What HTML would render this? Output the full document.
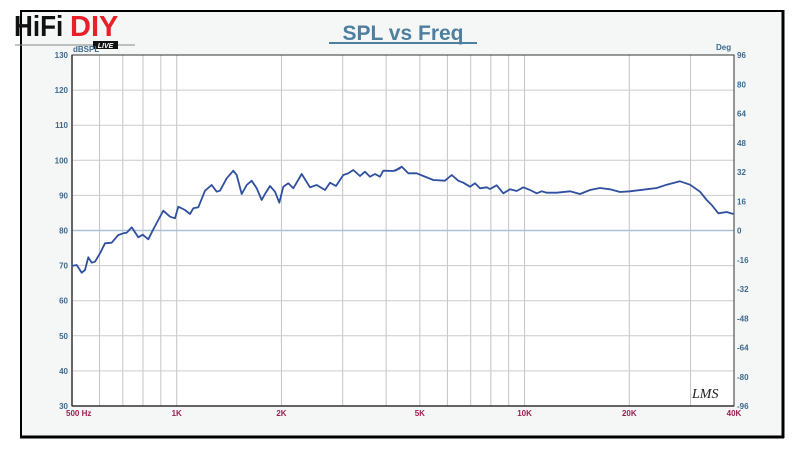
<!DOCTYPE html>
<html><head><meta charset="utf-8"><style>
body{margin:0;width:800px;height:454px;background:#fff;overflow:hidden;font-family:"Liberation Sans",sans-serif}
</style></head><body>
<svg id="s" width="800" height="454" xmlns="http://www.w3.org/2000/svg" font-family="Liberation Sans, sans-serif">
<rect x="21" y="11" width="762" height="426" fill="#f5f6f6" stroke="#000" stroke-width="2"/>
<line x1="783" y1="10" x2="783" y2="438" stroke="#000" stroke-width="3"/>
<line x1="20" y1="437" x2="784" y2="437" stroke="#000" stroke-width="3"/>
<rect x="72" y="55" width="662" height="351" fill="#fff"/>
<g id="grid"></g>
<line x1="72" y1="230.5" x2="734" y2="230.5" stroke="#a9c0d8" stroke-width="1.5"/>
<rect x="72" y="55" width="662" height="351" fill="none" stroke="#333" stroke-width="1"/>
<line x1="72" y1="55" x2="72" y2="406" stroke="#333" stroke-width="1.5"/>
<line x1="72" y1="406" x2="734" y2="406" stroke="#333" stroke-width="1.5"/>
<g id="lab" font-size="8" font-weight="bold"></g>
<text x="403" y="40" text-anchor="middle" font-size="21" font-weight="bold" fill="#4f7f9f">SPL vs Freq</text>
<line x1="329" y1="43" x2="477" y2="43" stroke="#4f7f9f" stroke-width="2"/>
<text x="14" y="36" font-size="29" font-weight="bold" fill="#111" transform="translate(14,0) scale(0.9,1) translate(-14,0)">HiFi</text>
<text x="70" y="36" font-size="29" font-weight="bold" fill="#e8202a">DIY</text>
<line x1="15" y1="45" x2="135" y2="45" stroke="#888" stroke-width="1"/>
<rect x="93" y="41" width="25" height="8" fill="#111"/>
<text x="105.5" y="48" font-size="7" fill="#fff" text-anchor="middle" font-style="italic" font-weight="bold">LIVE</text>
<text x="73" y="52" font-size="8" fill="#3d6a8f" font-weight="bold">dBSPL</text>
<text x="716" y="50" font-size="8" fill="#3d6a8f" font-weight="bold">Deg</text>
<text x="692" y="398" font-size="14" font-style="italic" fill="#222" font-family="Liberation Serif, serif">LMS</text>
<polyline id="c" fill="none" stroke="#2f4f9f" stroke-width="1.8" stroke-linejoin="round"/>
</svg>
<script>
var NS="http://www.w3.org/2000/svg",g=document.getElementById('grid'),lab=document.getElementById('lab');
function X(f){return 72+662*Math.log10(f/500)/Math.log10(80);}
function el(p,t,a,txt){var e=document.createElementNS(NS,t);for(var k in a)e.setAttribute(k,a[k]);if(txt)e.textContent=txt;p.appendChild(e);}
var fs=[600,700,800,900,1000,2000,3000,4000,5000,6000,7000,8000,9000,10000,20000,30000];
fs.forEach(function(f){var x=X(f);el(g,'line',{x1:x,y1:55,x2:x,y2:406,stroke:'#c4c4c4','stroke-width':1});});
for(var d=40;d<=120;d+=10){var y=55+(130-d)*3.51;el(g,'line',{x1:72,y1:y,x2:734,y2:y,stroke:'#cccccc','stroke-width':1});}
for(var d=30;d<=130;d+=10){var y=55+(130-d)*3.51;el(lab,'text',{x:68,y:y+3,'text-anchor':'end',fill:'#3d6a8f'},String(d));}
for(var i=0;i<=12;i++){var v=96-16*i,y=55+i*29.25;el(lab,'text',{x:737,y:y+3,fill:'#3d6a8f'},String(v));}
[[500,'500  Hz'],[1000,'1K'],[2000,'2K'],[5000,'5K'],[10000,'10K'],[20000,'20K'],[40000,'40K']].forEach(function(a){var x=X(a[0]);el(lab,'text',{x:a[0]==500?66:x,y:416,'text-anchor':a[0]==500?'start':'middle',fill:'#9a2050'},a[1]);});
var z4=[[35,348],[50,345],[65,368],[75,360],[85,322],[95,338],[105,335],[120,310],[135,280],[155,278],[175,255],[190,250],[200,248],[215,232],[235,262],[248,254],[265,268],[280,238],[295,210],[310,182],[330,200],[345,205],[355,170],[375,180],[390,192],[400,175],[415,172],[435,122],[455,105],[470,125],[480,122],[500,85],[520,62],[530,75],[545,132],[560,105],[575,92],[590,115],[605,150],[615,132],[630,108],[645,125],[658,158],[670,110],[685,100],[700,115],[725,72],[750,112],[770,105],[795,120],[810,98],[828,108],[850,75],[865,70],[880,60],[900,78],[915,65],[930,80],[945,72],[960,80],[970,62],[1000,63],[1020,55]];
var z5=[[15,62],[35,50],[55,70],[80,70],[100,78],[130,90],[165,92],[185,75],[205,92],[220,98],[240,110],[255,100],[270,115],[290,112],[300,117],[320,106],[340,130],[360,118],[380,123],[400,112],[420,120],[440,130],[455,124],[470,128],[500,128],[540,124],[570,132],[600,120],[630,114],[660,118],[690,126],[720,124],[760,119],[800,114],[830,104],[870,94],[900,104],[930,125],[950,150],[965,165],[985,190],[1010,186],[1030,192]];
var pts=[];z4.forEach(function(p){pts.push((60+p[0]/3).toFixed(1)+','+(150+p[1]/3).toFixed(1));});
z5.forEach(function(p){pts.push((390+p[0]/3).toFixed(1)+','+(150+p[1]/3).toFixed(1));});
document.getElementById('c').setAttribute('points',pts.join(' '));
</script>
</body></html>
